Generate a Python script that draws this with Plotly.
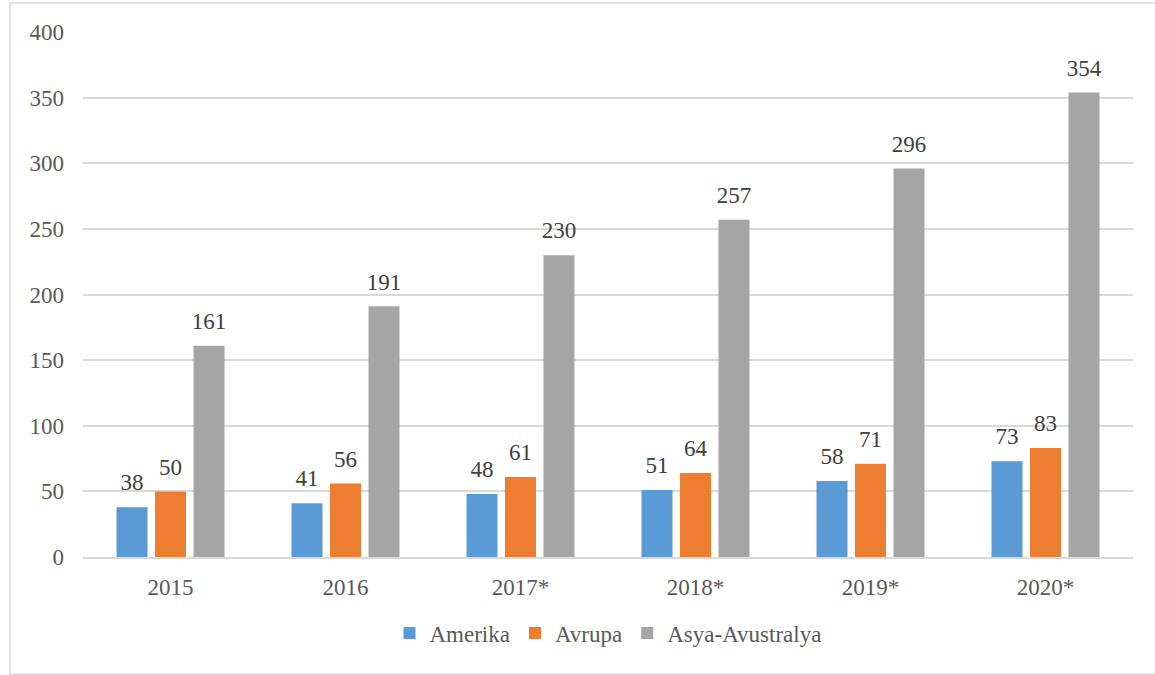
import plotly.graph_objects as go

years = ["2015", "2016", "2017*", "2018*", "2019*", "2020*"]
amerika = [38, 41, 48, 51, 58, 73]
avrupa = [50, 56, 61, 64, 71, 83]
asya = [161, 191, 230, 257, 296, 354]

series_names = ["Amerika", "Avrupa", "Asya-Avustralya"]
colors = ["#5B9BD5", "#ED7D31", "#A5A5A5"]

FONT = "Liberation Serif"
FS = 23

fig = go.Figure()
for i, (name, vals, col) in enumerate(zip(series_names, [amerika, avrupa, asya], colors)):
    fig.add_trace(go.Bar(
        x=years, y=vals, name=name, marker_color=col,
        marker_line_width=0, offsetgroup=str(i), alignmentgroup="g",
    ))
for i, vals in enumerate([amerika, avrupa, asya]):
    fig.add_trace(go.Scatter(
        x=years, y=vals, mode="markers+text", showlegend=False,
        marker=dict(size=16, opacity=0), hoverinfo="skip",
        text=[str(v) for v in vals], textposition="top center",
        textfont=dict(family=FONT, size=FS, color="#404040"),
        offsetgroup=str(i), alignmentgroup="g", cliponaxis=False,
    ))

W, H = 1155, 675
L, R, T, B = 83, 22, 32, 118
pw = W - L - R
ph = H - T - B

def px_x(x):
    return (x - L) / pw

def px_y(y):
    return (H - B - y) / ph

fig.update_layout(
    width=W, height=H,
    margin=dict(l=L, r=R, t=T, b=B),
    paper_bgcolor="white", plot_bgcolor="white",
    barmode="group", bargap=0.34, bargroupgap=0.195,
    scattermode="group", scattergap=0.34,
    font=dict(family=FONT, size=FS, color="#595959"),
    xaxis=dict(showgrid=False, showline=True, linecolor="#D9D9D9", linewidth=1.5,
               ticks="", tickfont=dict(family=FONT, size=FS, color="#595959"),
               ticklabelstandoff=9),
    yaxis=dict(range=[0, 400], dtick=50, showgrid=True, gridcolor="#D9D9D9",
               gridwidth=1.5, zeroline=False, showline=False, ticks="",
               tickfont=dict(family=FONT, size=FS, color="#595959"), ticklabelstandoff=18),
    legend=dict(orientation="h", x=0.5, xanchor="center", y=px_y(633), yanchor="middle",
                font=dict(family=FONT, size=FS, color="#595959"), itemwidth=30,
                traceorder="normal"),
    showlegend=True,
    shapes=[dict(type="rect", xref="paper", yref="paper",
                 x0=px_x(10), x1=px_x(1160), y0=px_y(674), y1=px_y(3),
                 line=dict(color="#D9D9D9", width=1.5), fillcolor="rgba(0,0,0,0)",
                 layer="below")],
)

fig.write_html("out.html", config={"displayModeBar": False},
               post_script="document.body.style.margin='0';")
